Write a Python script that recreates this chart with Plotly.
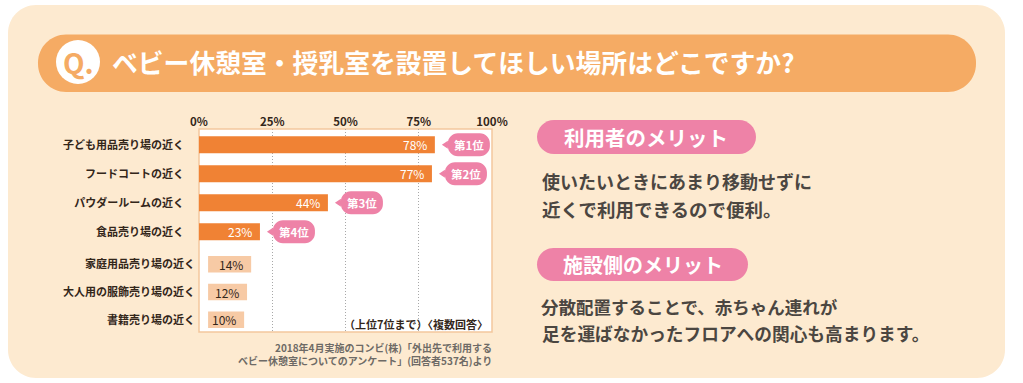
import plotly.graph_objects as go

FONT = "Noto Sans CJK JP"
W, H = 1023, 383

# ---- data ----
title = "ベビー休憩室・授乳室を設置してほしい場所はどこですか?"
top_categories = ["子ども用品売り場の近く", "フードコートの近く", "パウダールームの近く", "食品売り場の近く"]
top_printed = ["78%", "77%", "44%", "23%"]
top_drawn_length = [80.5, 79.5, 44.0, 20.8]   # bar ends as drawn against the axis
top_ranks = ["第1位", "第2位", "第3位", "第4位"]

low_categories = ["家庭用品売り場の近く", "大人用の服飾売り場の近く", "書籍売り場の近く"]
low_printed = ["14%", "12%", "10%"]
low_drawn_length = [14.7, 13.3, 12.3]
low_drawn_base = [3.1, 3.1, 3.1]

tick_values = [0, 25, 50, 75, 100]
tick_labels = ["0%", "25%", "50%", "75%", "100%"]

# ---- colours ----
PANEL, HEADER, PINK = "#FDEAD0", "#F5AB64", "#EE82A7"
ORANGE, LIGHT, BORDER = "#F08234", "#F7CAA5", "#F3C79D"
INK, BODY, SOURCE = "#33261A", "#4B4641", "#6E6A66"

fx = lambda v: v / W
fy = lambda v: 1 - v / H


def rounded(x0, y0, x1, y1, r):
    k = 0.45 * r
    pts = [
        f"M{fx(x0 + r)},{fy(y0)}", f"L{fx(x1 - r)},{fy(y0)}",
        f"C{fx(x1 - k)},{fy(y0)} {fx(x1)},{fy(y0 + k)} {fx(x1)},{fy(y0 + r)}",
        f"L{fx(x1)},{fy(y1 - r)}",
        f"C{fx(x1)},{fy(y1 - k)} {fx(x1 - k)},{fy(y1)} {fx(x1 - r)},{fy(y1)}",
        f"L{fx(x0 + r)},{fy(y1)}",
        f"C{fx(x0 + k)},{fy(y1)} {fx(x0)},{fy(y1 - k)} {fx(x0)},{fy(y1 - r)}",
        f"L{fx(x0)},{fy(y0 + r)}",
        f"C{fx(x0)},{fy(y0 + k)} {fx(x0 + k)},{fy(y0)} {fx(x0 + r)},{fy(y0)}", "Z",
    ]
    return " ".join(pts)


def panel(path, color):
    return dict(type="path", path=path, xref="paper", yref="paper", fillcolor=color,
                line_width=0, layer="below")


def text(x, y, s, size, color, anchor="left", weight=700):
    # x3/y3 is a hidden full-page axis pair counted in page pixels
    return dict(x=x, y=y, xref="x3", yref="y3", text=s, showarrow=False,
                xanchor=anchor, yanchor="middle", align=anchor,
                font=dict(family=FONT, size=size, color=color, weight=weight))


# callout bubble in pixels, measured from the end of its bar
B0, B1, TIP, HH, R = 13, 55, 7, 11.5, 10
K = 0.45 * R
bubble = (
    f"M{TIP},0 L{B0},4 L{B0},{HH - R} C{B0},{HH - K} {B0 + K},{HH} {B0 + R},{HH} "
    f"L{B1 - R},{HH} C{B1 - K},{HH} {B1},{HH - K} {B1},{HH - R} "
    f"L{B1},{-HH + R} C{B1},{-HH + K} {B1 - K},{-HH} {B1 - R},{-HH} "
    f"L{B0 + R},{-HH} C{B0 + K},{-HH} {B0},{-HH + K} {B0},{-HH + R} L{B0},-4 Z"
)

shapes = [
    panel(rounded(8, 5, 1005, 378, 28), PANEL),
    panel(rounded(38, 34.5, 976, 92, 28), HEADER),
    panel(rounded(537, 120, 756, 154, 17), PINK),
    panel(rounded(537, 248, 748, 281, 16.5), PINK),
    dict(type="circle", xref="paper", yref="paper", x0=fx(56), x1=fx(100), y0=fy(84), y1=fy(40),
         fillcolor="white", line_width=0, layer="below"),
    dict(type="rect", xref="paper", yref="paper", x0=fx(199), x1=fx(492), y0=fy(332), y1=fy(129),
         fillcolor="white", line=dict(color=BORDER, width=1.5), layer="below"),
]
annotations = [
    text(78, 62, "Q.", 28, HEADER, "center"),
    text(110, 61, title, 25.8, "white"),
    text(646, 137, "利用者のメリット", 20.5, "white", "center"),
    text(643, 264.5, "施設側のメリット", 20, "white", "center"),
    text(540, 180.5, "使いたいときにあまり移動せずに", 18, BODY),
    text(540, 208.5, "近くで利用できるので便利。", 18.5, BODY),
    text(539, 306.5, "分散配置することで、赤ちゃん連れが", 17.5, BODY),
    text(540, 332.5, "足を運ばなかったフロアへの関心も高まります。", 17.7, BODY),
    text(490, 323.5, "（上位7位まで）〈複数回答〉", 11, INK, "right"),
    text(494, 347, "2018年4月実施のコンビ(株)「外出先で利用する", 10, SOURCE, "right"),
    text(494, 360, "ベビー休憩室についてのアンケート」(回答者537名)より", 10, SOURCE, "right"),
]

for i, (length, shown, rank) in enumerate(zip(top_drawn_length, top_printed, top_ranks)):
    shapes.append(dict(type="path", path=bubble, xref="x", yref="y", xsizemode="pixel",
                       ysizemode="pixel", xanchor=length, yanchor=i, fillcolor=PINK, line_width=0))
    annotations.append(dict(x=length, y=top_categories[i], xref="x", yref="y", text=shown,
                            showarrow=False, xanchor="right", xshift=-6,
                            font=dict(family=FONT, size=12, color="white")))
    annotations.append(dict(x=length, y=top_categories[i], xref="x", yref="y", text=rank,
                            showarrow=False, xanchor="center", xshift=34,
                            font=dict(family=FONT, size=11.5, color="white", weight=700)))

for i, shown in enumerate(low_printed):
    annotations.append(dict(x=low_drawn_base[i] + low_drawn_length[i], y=low_categories[i],
                            xref="x", yref="y2", text=shown, showarrow=False, xanchor="right",
                            xshift=-6, font=dict(family=FONT, size=12, color=INK)))

fig = go.Figure()
fig.add_bar(y=top_categories, x=top_drawn_length, orientation="h", width=0.586,
            marker=dict(color=ORANGE, line_width=0), xaxis="x", yaxis="y", hoverinfo="skip")
fig.add_bar(y=low_categories, x=low_drawn_length, base=low_drawn_base, orientation="h", width=0.596,
            marker=dict(color=LIGHT, line_width=0), xaxis="x", yaxis="y2", hoverinfo="skip")

y_common = dict(type="category", anchor="x", showgrid=False, zeroline=False, showline=False,
                ticks="", tickfont=dict(family=FONT, size=11, color=INK, weight=700))
fig.update_layout(
    width=W, height=H, margin=dict(l=0, r=0, t=0, b=0, autoexpand=False), showlegend=False,
    paper_bgcolor="white", plot_bgcolor="rgba(0,0,0,0)", barmode="overlay",
    shapes=shapes, annotations=annotations,
    xaxis=dict(domain=[fx(199), fx(492)], range=[0, 100], side="top", anchor="y",
               tickmode="array", tickvals=tick_values, ticktext=tick_labels, ticks="",
               showline=False, zeroline=False, showgrid=True, griddash="1px,2px",
               gridcolor="#A8A8A8", gridwidth=1,
               tickfont=dict(family=FONT, size=11.5, color=INK, weight=700)),
    yaxis=dict(domain=[fy(245.8), fy(129)], range=[3.486, -0.541], categoryorder="array",
               categoryarray=top_categories, ticklabelstandoff=14, **y_common),
    yaxis2=dict(domain=[fy(332), fy(245.8)], range=[2.444, -0.668], categoryorder="array",
                categoryarray=low_categories, ticklabelstandoff=3, **y_common),
    xaxis3=dict(domain=[0, 1], range=[0, W], anchor="y3", visible=False, fixedrange=True),
    yaxis3=dict(domain=[0, 1], range=[H, 0], anchor="x3", visible=False, fixedrange=True),
)
fig.write_html("out.html", config={"displayModeBar": False},
               post_script="document.body.style.margin='0';document.body.style.background='white';")
